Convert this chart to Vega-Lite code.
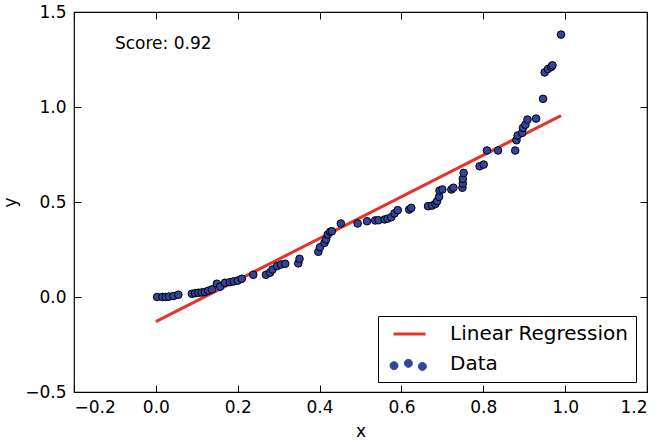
{
  "$schema": "https://vega.github.io/schema/vega-lite/v6.json",
  "width": 573,
  "height": 380,
  "autosize": {"type": "none"},
  "padding": {"left": 74, "top": 12, "right": 14, "bottom": 51},
  "config": {
    "font": "DejaVu Sans",
    "view": {"stroke": "#000", "strokeWidth": 1.2},
    "axis": {
      "domain": false,
      "grid": false,
      "tickColor": "#000",
      "tickSize": -7,
      "tickWidth": 1,
      "labelColor": "#000",
      "labelFontSize": 17,
      "labelFont": "DejaVu Sans",
      "titleColor": "#000",
      "titleFontSize": 17,
      "titleFont": "DejaVu Sans",
      "titleFontWeight": "normal"
    }
  },
  "datasets": {
    "points": [
      {"x": 0.003, "y": 0.000}, {"x": 0.016, "y": 0.000}, {"x": 0.024, "y": 0.000}, {"x": 0.032, "y": 0.002},
      {"x": 0.043, "y": 0.005}, {"x": 0.055, "y": 0.012}, {"x": 0.088, "y": 0.017}, {"x": 0.096, "y": 0.020},
      {"x": 0.104, "y": 0.022}, {"x": 0.112, "y": 0.024}, {"x": 0.120, "y": 0.026}, {"x": 0.128, "y": 0.033},
      {"x": 0.137, "y": 0.040}, {"x": 0.149, "y": 0.070}, {"x": 0.157, "y": 0.054}, {"x": 0.169, "y": 0.075},
      {"x": 0.181, "y": 0.078}, {"x": 0.190, "y": 0.082}, {"x": 0.200, "y": 0.086}, {"x": 0.210, "y": 0.096},
      {"x": 0.238, "y": 0.117}, {"x": 0.269, "y": 0.117}, {"x": 0.279, "y": 0.128}, {"x": 0.285, "y": 0.145},
      {"x": 0.296, "y": 0.163}, {"x": 0.306, "y": 0.171}, {"x": 0.316, "y": 0.175}, {"x": 0.348, "y": 0.177},
      {"x": 0.351, "y": 0.201}, {"x": 0.397, "y": 0.238}, {"x": 0.401, "y": 0.262}, {"x": 0.412, "y": 0.285},
      {"x": 0.416, "y": 0.303}, {"x": 0.420, "y": 0.329}, {"x": 0.426, "y": 0.343}, {"x": 0.430, "y": 0.346},
      {"x": 0.452, "y": 0.387}, {"x": 0.493, "y": 0.387}, {"x": 0.516, "y": 0.399}, {"x": 0.536, "y": 0.403},
      {"x": 0.544, "y": 0.404}, {"x": 0.559, "y": 0.408}, {"x": 0.566, "y": 0.412}, {"x": 0.575, "y": 0.420},
      {"x": 0.583, "y": 0.440}, {"x": 0.591, "y": 0.457}, {"x": 0.619, "y": 0.460}, {"x": 0.624, "y": 0.469},
      {"x": 0.665, "y": 0.478}, {"x": 0.675, "y": 0.481}, {"x": 0.683, "y": 0.490}, {"x": 0.687, "y": 0.504},
      {"x": 0.692, "y": 0.527}, {"x": 0.693, "y": 0.560}, {"x": 0.700, "y": 0.566}, {"x": 0.722, "y": 0.566},
      {"x": 0.727, "y": 0.575}, {"x": 0.749, "y": 0.575}, {"x": 0.750, "y": 0.597}, {"x": 0.750, "y": 0.622},
      {"x": 0.752, "y": 0.653}, {"x": 0.791, "y": 0.688}, {"x": 0.801, "y": 0.697}, {"x": 0.809, "y": 0.771},
      {"x": 0.836, "y": 0.771}, {"x": 0.878, "y": 0.771}, {"x": 0.881, "y": 0.825}, {"x": 0.884, "y": 0.850},
      {"x": 0.895, "y": 0.864}, {"x": 0.897, "y": 0.890}, {"x": 0.903, "y": 0.907}, {"x": 0.908, "y": 0.934},
      {"x": 0.929, "y": 0.939}, {"x": 0.946, "y": 1.043}, {"x": 0.950, "y": 1.182}, {"x": 0.958, "y": 1.200},
      {"x": 0.966, "y": 1.211}, {"x": 0.969, "y": 1.219}, {"x": 0.990, "y": 1.381}
    ],
    "fit": [
      {"x": 0.0, "y": -0.13},
      {"x": 0.99, "y": 0.955}
    ],
    "note": [
      {"x": -0.1, "y": 1.33, "label": "Score: 0.92"}
    ]
  },
  "resolve": {"axis": {"x": "independent", "y": "independent"}},
  "layer": [
    {
      "data": {"name": "fit"},
      "mark": {"type": "line", "strokeWidth": 3},
      "encoding": {
        "x": {"field": "x", "type": "quantitative", "axis": null,
              "scale": {"domain": [-0.2, 1.2], "nice": false, "zero": false}},
        "y": {"field": "y", "type": "quantitative", "axis": null,
              "scale": {"domain": [-0.5, 1.5], "nice": false, "zero": false}},
        "color": {
          "datum": "Linear Regression",
          "type": "nominal",
          "scale": {"domain": ["Linear Regression", "Data"], "range": ["#e5352b", "#33449e"]},
          "legend": {
            "title": null,
            "orient": "none",
            "legendX": 304,
            "legendY": 304,
            "strokeColor": "#000",
            "fillColor": "#fff",
            "cornerRadius": 0,
            "padding": 8,
            "symbolSize": 256,
            "rowPadding": 10,
            "labelFontSize": 20,
            "labelFont": "DejaVu Sans",
            "labelColor": "#000",
            "labelLimit": 400,
            "labelOffset": 44,
            "encode": {
              "legend": {"update": {"strokeWidth": {"value": 1}}},
              "symbols": {
                "update": {
                  "shape": {"signal": "datum.value === 'Data' ? 'M-0.75,0.21A0.5,0.5,0,1,0,0.25,0.21A0.5,0.5,0,1,0,-0.75,0.21Z M1.05,-0.08A0.5,0.5,0,1,0,2.05,-0.08A0.5,0.5,0,1,0,1.05,-0.08Z M2.8,0.3A0.5,0.5,0,1,0,3.8,0.3A0.5,0.5,0,1,0,2.8,0.3Z' : 'M-0.31,0L3.69,0'"},
                  "fill": {"signal": "datum.value === 'Data' ? '#33449e' : 'transparent'"},
                  "stroke": {"signal": "datum.value === 'Data' ? '#000' : '#e5352b'"},
                  "strokeWidth": {"signal": "datum.value === 'Data' ? 1 : 3"}
                }
              }
            }
          }
        }
      }
    },
    {
      "data": {"name": "points"},
      "mark": {"type": "point", "shape": "circle", "filled": true, "size": 58, "stroke": "#000", "strokeWidth": 1, "opacity": 1},
      "encoding": {
        "x": {"field": "x", "type": "quantitative",
              "scale": {"domain": [-0.2, 1.2], "nice": false, "zero": false},
              "axis": {"orient": "bottom", "values": [-0.2, 0, 0.2, 0.4, 0.6, 0.8, 1.0, 1.2], "format": ".1f", "labelPadding": 14, "title": "x", "titlePadding": 8}},
        "y": {"field": "y", "type": "quantitative",
              "scale": {"domain": [-0.5, 1.5], "nice": false, "zero": false},
              "axis": {"orient": "left", "values": [-0.5, 0, 0.5, 1.0, 1.5], "format": ".1f", "labelPadding": 15, "title": "y", "titlePadding": 5}},
        "color": {"datum": "Data", "type": "nominal"}
      }
    },
    {
      "data": {"name": "note"},
      "mark": {"type": "text", "align": "left", "baseline": "middle", "fontSize": 17, "font": "DejaVu Sans", "color": "#000"},
      "encoding": {
        "x": {"field": "x", "type": "quantitative",
              "scale": {"domain": [-0.2, 1.2], "nice": false, "zero": false},
              "axis": {"orient": "top", "values": [-0.2, 0, 0.2, 0.4, 0.6, 0.8, 1.0, 1.2], "labels": false, "title": null}},
        "y": {"field": "y", "type": "quantitative",
              "scale": {"domain": [-0.5, 1.5], "nice": false, "zero": false},
              "axis": {"orient": "right", "values": [-0.5, 0, 0.5, 1.0, 1.5], "labels": false, "title": null}},
        "text": {"field": "label"}
      }
    }
  ]
}
